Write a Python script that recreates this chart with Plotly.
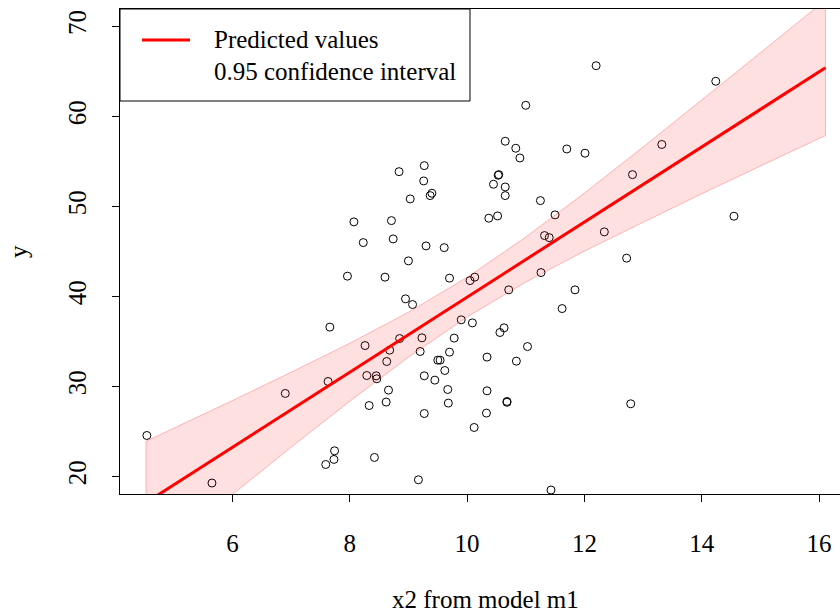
import plotly.graph_objects as go

# ---- data ----
x2 = [4.54, 5.65, 6.90, 7.59, 7.63, 7.66, 7.73, 7.74, 7.96, 8.07,
      8.23, 8.26, 8.29, 8.33, 8.42, 8.45, 8.46, 8.60, 8.62, 8.63,
      8.66, 8.68, 8.71, 8.74, 8.84, 8.85, 8.95, 9.00, 9.03, 9.07,
      9.17, 9.20, 9.23, 9.26, 9.27, 9.27, 9.27, 9.30, 9.37, 9.40,
      9.45, 9.50, 9.54, 9.61, 9.62, 9.67, 9.68, 9.70, 9.70, 9.78,
      9.90, 10.05, 10.09, 10.12, 10.13, 10.33, 10.34, 10.34, 10.37, 10.45,
      10.52, 10.53, 10.54, 10.56, 10.63, 10.65, 10.65, 10.65, 10.68, 10.68,
      10.71, 10.83, 10.84, 10.90, 11.00, 11.03, 11.25, 11.26, 11.32, 11.40,
      11.43, 11.50, 11.62, 11.70, 11.84, 12.01, 12.20, 12.34, 12.72, 12.79,
      12.82, 13.32, 14.24, 14.55]
y = [24.55, 19.27, 29.22, 21.33, 30.55, 36.59, 21.89, 22.85, 42.25, 48.28,
     45.98, 34.54, 31.21, 27.88, 22.11, 31.18, 30.85, 42.14, 28.26, 32.77,
     29.59, 34.03, 48.42, 46.39, 53.86, 35.32, 39.73, 43.95, 50.83, 39.10,
     19.63, 33.88, 35.40, 52.83, 54.53, 31.18, 26.99, 45.61, 51.20, 51.46,
     30.70, 32.92, 32.92, 45.42, 31.77, 29.66, 28.15, 42.03, 33.81, 35.37,
     37.40, 41.76, 37.06, 25.44, 42.14, 27.04, 29.51, 33.26, 48.69, 52.46,
     48.94, 53.46, 53.53, 35.99, 36.51, 57.24, 52.16, 51.20, 28.33, 28.24,
     40.73, 56.46, 32.81, 55.38, 61.23, 34.43, 50.64, 42.65, 46.76, 46.53,
     18.49, 49.06, 38.65, 56.38, 40.73, 55.91, 65.63, 47.17, 44.25, 28.07,
     53.53, 56.88, 63.90, 48.91]

pred_x = [4.525, 5, 6, 7, 8, 9, 10, 11, 12, 13, 14, 15, 16.11]
pred_y = [17.09, 19.07, 23.24, 27.41, 31.58, 35.75, 39.92, 44.09, 48.26, 52.43, 56.60, 60.77, 65.40]
ci_low = [10.27, 12.78, 18.04, 23.24, 28.36, 33.25, 37.72, 41.59, 45.04, 48.26, 51.40, 54.48, 57.87]
ci_high = [23.91, 25.36, 28.44, 31.58, 34.80, 38.25, 42.12, 46.59, 51.48, 56.60, 61.80, 67.06, 72.93]

x_ticks = [6, 8, 10, 12, 14, 16]
y_ticks = [20, 30, 40, 50, 60, 70]

FONT = "Liberation Serif, 'Times New Roman', Times, 'DejaVu Serif', serif"
FS = 25

fig = go.Figure()

fig.add_trace(go.Scatter(
    x=x2, y=y, mode="markers",
    marker=dict(symbol="circle-open", size=8, color="black", line=dict(width=1, color="black")),
    showlegend=False, hoverinfo="skip"))

fig.add_trace(go.Scatter(
    x=pred_x, y=ci_low, mode="lines",
    line=dict(color="rgba(255,0,0,0.25)", width=1),
    showlegend=False, hoverinfo="skip"))
fig.add_trace(go.Scatter(
    x=pred_x, y=ci_high, mode="lines", fill="tonexty",
    fillcolor="rgba(255,0,0,0.12)",
    line=dict(color="rgba(255,0,0,0.25)", width=1),
    showlegend=False, hoverinfo="skip"))
# vertical closing edges of the band polygon
fig.add_trace(go.Scatter(
    x=[pred_x[0], pred_x[0], None, pred_x[-1], pred_x[-1]],
    y=[ci_low[0], ci_high[0], None, ci_low[-1], ci_high[-1]],
    mode="lines", line=dict(color="rgba(255,0,0,0.25)", width=1),
    showlegend=False, hoverinfo="skip"))

fig.add_trace(go.Scatter(
    x=pred_x, y=pred_y, mode="lines",
    line=dict(color="red", width=3),
    showlegend=False, hoverinfo="skip"))

fig.update_layout(
    width=840, height=614,
    margin=dict(l=120, r=0, t=9, b=120),
    plot_bgcolor="white", paper_bgcolor="white",
    font=dict(family=FONT, size=FS, color="black"),
    xaxis=dict(range=[4.082, 16.358], tickvals=x_ticks, ticks="outside", ticklen=7,
               tickcolor="black", showline=True, linecolor="black", linewidth=1,
               mirror=True, showgrid=False, zeroline=False,
               tickfont=dict(family=FONT, size=FS), ticklabelstandoff=20),
    yaxis=dict(range=[18.05, 71.93], tickvals=y_ticks, ticks="outside", ticklen=7,
               tickcolor="black", showline=True, linecolor="black", linewidth=1,
               showgrid=False, zeroline=False, tickangle=-90,
               tickfont=dict(family=FONT, size=FS), ticklabelstandoff=16),
    showlegend=False,
)

# legend box (manual, R style)
fig.add_shape(type="rect", xref="paper", yref="paper", x0=0, x1=0.4861, y0=0.8103, y1=1,
              line=dict(color="black", width=1), fillcolor="white", layer="above")
fig.add_shape(type="line", xref="paper", yref="paper", x0=0.0306, x1=0.0972, y0=0.9361, y1=0.9361,
              line=dict(color="red", width=3), layer="above")
fig.add_annotation(xref="paper", yref="paper", x=0.1278, y=0.9361, text="Predicted values",
                   showarrow=False, xanchor="left", yanchor="middle", font=dict(family=FONT, size=FS))
fig.add_annotation(xref="paper", yref="paper", x=0.1278, y=0.872, text="0.95 confidence interval",
                   showarrow=False, xanchor="left", yanchor="middle", font=dict(family=FONT, size=FS))

# axis titles
fig.add_annotation(xref="paper", yref="paper", x=0.507, y=-0.217, text="x2 from model m1",
                   showarrow=False, xanchor="center", yanchor="middle", font=dict(family=FONT, size=FS))
fig.add_annotation(xref="paper", yref="paper", x=-0.1417, y=0.501, text="y", textangle=-90,
                   showarrow=False, xanchor="center", yanchor="middle", font=dict(family=FONT, size=FS))

fig.write_html("out.html")
